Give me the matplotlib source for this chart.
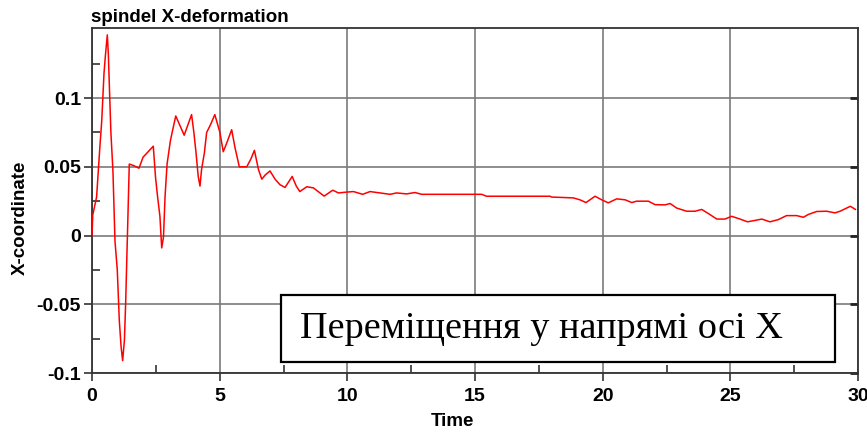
import matplotlib
matplotlib.use("Agg")
import matplotlib.pyplot as plt
from matplotlib.patches import Rectangle

# Spindle X-deformation over time
time = [0, 0.03, 0.18, 0.31, 0.38, 0.47, 0.53, 0.6, 0.64, 0.69, 0.74, 0.82, 0.9,
        0.99, 1.07, 1.14, 1.2, 1.27, 1.32, 1.36, 1.4, 1.46, 1.62, 1.84, 2.0, 2.4,
        2.49, 2.57, 2.66, 2.73, 2.8, 2.86, 2.94, 3.07, 3.15, 3.28, 3.61, 3.9, 3.99,
        4.07, 4.16, 4.23, 4.29, 4.4, 4.49, 4.65, 4.81, 5.01, 5.14, 5.27, 5.47, 5.6,
        5.77, 6.06, 6.23, 6.36, 6.52, 6.65, 6.78, 6.97, 7.17, 7.36, 7.56, 7.84, 8.0,
        8.14, 8.41, 8.67, 9.09, 9.43, 9.65, 9.91, 10.24, 10.6, 10.89, 11.28, 11.67,
        11.93, 12.32, 12.65, 12.91, 15.26, 15.45, 17.94, 18.0, 18.85, 19.11, 19.35,
        19.7, 19.96, 20.22, 20.55, 20.88, 21.14, 21.33, 21.79, 22.05, 22.44, 22.64,
        22.9, 23.29, 23.62, 23.88, 24.14, 24.47, 24.79, 25.05, 25.38, 25.67, 25.97,
        26.23, 26.55, 26.88, 27.2, 27.6, 27.86, 28.05, 28.38, 28.77, 29.1, 29.3,
        29.5, 29.7, 29.9]
x_coord = [0, 0.015, 0.028, 0.065, 0.083, 0.118, 0.132, 0.146, 0.132, 0.103, 0.075,
           0.047, -0.004, -0.025, -0.062, -0.081, -0.091, -0.076, -0.048, -0.019,
           0.009, 0.052, 0.051, 0.049, 0.057, 0.065, 0.042, 0.028, 0.014, -0.009,
           -0.001, 0.028, 0.052, 0.069, 0.076, 0.087, 0.073, 0.088, 0.075, 0.061,
           0.043, 0.036, 0.048, 0.060, 0.075, 0.081, 0.088, 0.075, 0.061, 0.067,
           0.077, 0.064, 0.050, 0.050, 0.056, 0.062, 0.048, 0.041, 0.044, 0.047,
           0.041, 0.037, 0.035, 0.043, 0.036, 0.032, 0.0355, 0.0347, 0.0287, 0.033,
           0.031, 0.0315, 0.032, 0.030, 0.032, 0.031, 0.030, 0.031, 0.0303, 0.0313,
           0.030, 0.030, 0.0286, 0.0286, 0.028, 0.0274, 0.026, 0.024, 0.0286, 0.026,
           0.0238, 0.0267, 0.026, 0.024, 0.025, 0.025, 0.0225, 0.0223, 0.0233, 0.020,
           0.0177, 0.0177, 0.019, 0.016, 0.012, 0.012, 0.014, 0.012, 0.010, 0.011,
           0.012, 0.010, 0.0116, 0.0145, 0.0145, 0.0133, 0.0153, 0.0175, 0.0177,
           0.0165, 0.0177, 0.0195, 0.0213, 0.019]

x_ticks = [0, 5, 10, 15, 20, 25, 30]
x_tick_labels = ["0", "5", "10", "15", "20", "25", "30"]
y_ticks = [-0.1, -0.05, 0, 0.05, 0.1]
y_tick_labels = ["-0.1", "-0.05", "0", "0.05", "0.1"]

title = "spindel X-deformation"
x_label = "Time"
y_label = "X-coordinate"
note = "Переміщення у напрямі осі Х"

W, H = 867, 433
fig = plt.figure(figsize=(W / 100, H / 100), dpi=100)
fig.patch.set_facecolor("white")

# axes box in pixel terms: left 92, right 858, top 28, bottom 373
ax = fig.add_axes([92 / W, (H - 373) / H, (858 - 92) / W, (373 - 28) / H])
ax.plot(time, x_coord, color="#ff0000", lw=1.1, zorder=3)

ax.set_xlim(0, 30)
ax.set_ylim(-0.1, 0.151)
ax.set_xticks(x_ticks)
ax.set_xticklabels(x_tick_labels)
ax.set_yticks(y_ticks)
ax.set_yticklabels(y_tick_labels)
ax.set_xticks([2.5, 7.5, 12.5, 17.5, 22.5, 27.5], minor=True)
ax.set_yticks([-0.075, -0.025, 0.025, 0.075, 0.125], minor=True)

ax.grid(True, which="major", color="#7a7a7a", lw=1.2, zorder=1)

for lab in ax.get_xticklabels() + ax.get_yticklabels():
    lab.set_fontfamily("Liberation Sans")
    lab.set_fontweight("bold")
    lab.set_fontsize(14)

ax.tick_params(axis="both", which="major", direction="out", length=6,
               width=1.2, color="#333333")
ax.tick_params(axis="x", which="major", pad=5)
ax.tick_params(axis="y", which="major", pad=2)
ax.tick_params(axis="both", which="minor", direction="in", length=6,
               width=1.2, color="#333333")
ax.yaxis.set_tick_params(which="major", right=True)
ax.yaxis.set_tick_params(which="major", direction="out", left=True)
# inward marks on the right edge at each major level
for yv in y_ticks:
    ax.plot([29.7, 30], [yv, yv], color="#222222", lw=2.0, zorder=2,
            solid_capstyle="butt", clip_on=False)
ax.yaxis.set_tick_params(which="major", right=False)

for side in ["left", "bottom", "top", "right"]:
    ax.spines[side].set_color("#333333")
    ax.spines[side].set_linewidth(1.3)

# annotation box
ax.add_patch(Rectangle((0.247, 0.032), 0.723, 0.194, transform=ax.transAxes,
                       facecolor="white", edgecolor="black", lw=1.6, zorder=5))
ax.text(0.271, 0.128, note, transform=ax.transAxes, ha="left", va="center",
        family="Liberation Serif", fontsize=27.5, color="black", zorder=6)

label_font = dict(family="Liberation Sans", weight="bold", fontsize=13.5)
fig.text(91 / W, 1 - 18 / H, title, ha="left", va="center", **label_font)
fig.text(452 / W, 1 - 422 / H, x_label, ha="center", va="center", **label_font)
fig.text(20 / W, 1 - 218 / H, y_label, ha="center", va="center", rotation=90,
         **label_font)

fig.savefig("out.png", dpi=100)
